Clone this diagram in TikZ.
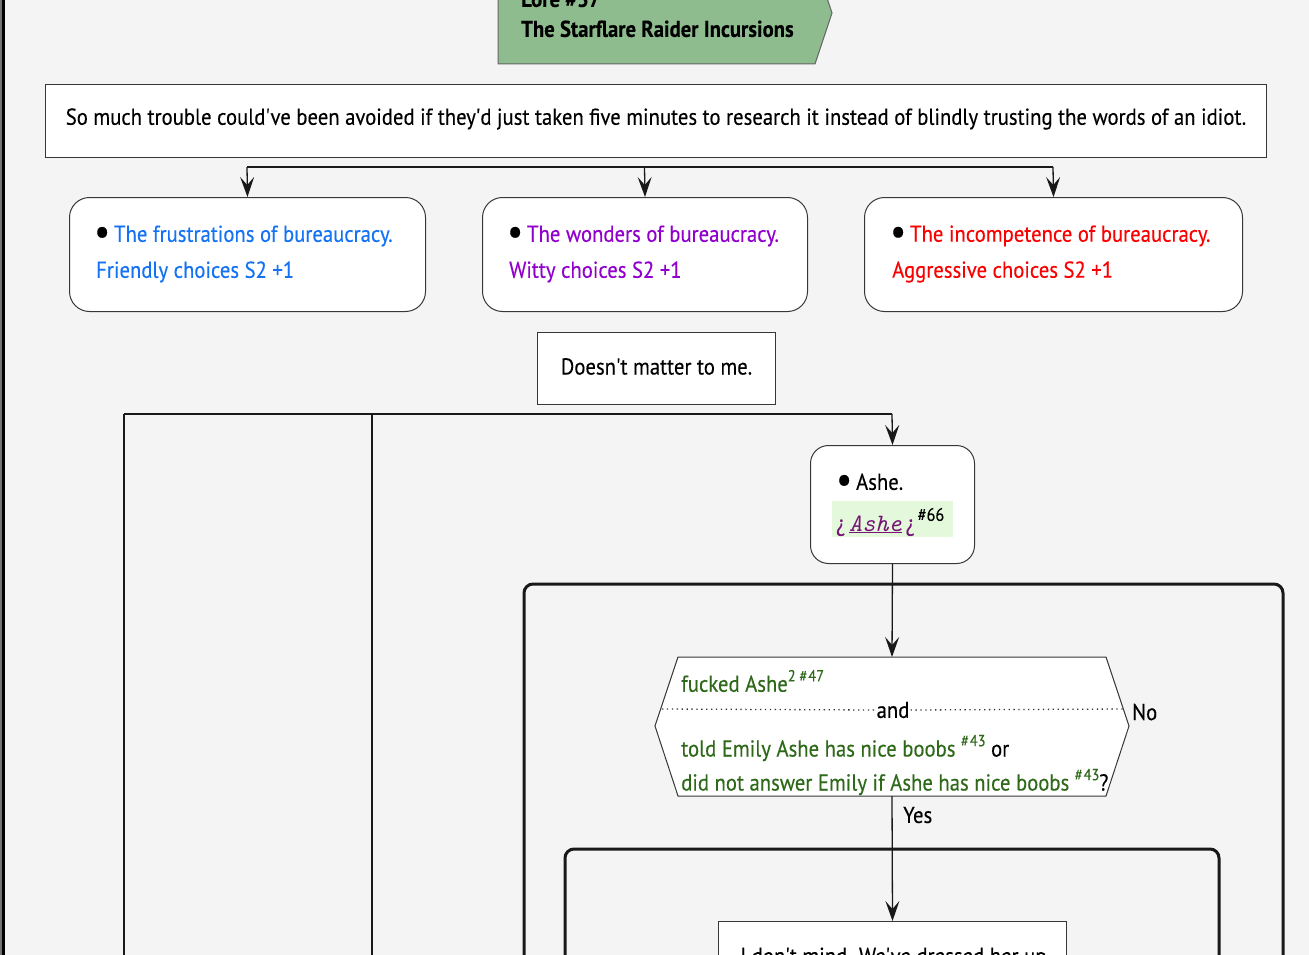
\documentclass[tikz,border=0pt]{standalone}
\usepackage{fontspec}
\setmainfont{PT Sans}[FakeStretch=0.9,FakeBold=0.25,Ligatures=TeXOff]
\usetikzlibrary{arrows.meta}

\definecolor{bg}{RGB}{244,244,244}
\definecolor{lorefill}{RGB}{143,188,143}
\definecolor{friendly}{RGB}{20,115,245}
\definecolor{witty}{RGB}{145,0,205}
\definecolor{aggr}{RGB}{250,0,0}
\definecolor{cond}{RGB}{45,105,25}
\definecolor{linkc}{RGB}{120,20,120}
\definecolor{hl}{RGB}{228,248,220}
\definecolor{edge}{RGB}{55,55,55}

% small raised reference mark
\newcommand\refmark[1]{\raisebox{0.45em}{\fontsize{16}{16}\selectfont #1}}
% list bullet, always black
\newcommand\blt{\hspace{-2pt}{\color{black}\raisebox{-0.12em}{\scalebox{1.7}{\textbullet}}}\hspace{4pt}}

\tikzset{
  plainbox/.style={draw=edge, line width=1pt, fill=white, inner sep=0pt},
  roundbox/.style={plainbox, rounded corners=20pt},
  frame/.style={draw=black!90, line width=3pt, rounded corners=9pt},
  bar/.style={draw=black!90, line width=2.6pt},
  lane/.style={draw=black!90, line width=2pt},
  flow/.style={draw=black!90, line width=1.3pt, -{Stealth[length=20pt,width=14pt,inset=8pt]}},
  txt/.style={inner sep=0pt, align=left, anchor=west},
}

\begin{document}
\begin{tikzpicture}[x=1pt,y=-1pt,font=\fontsize{23}{36}\selectfont]
\useasboundingbox (0,0) rectangle (1309,955);
\clip (0,0) rectangle (1309,955);
\fill[bg] (0,0) rectangle (1309,955);

% page edge on the left
\fill[black!55] (0,0) rectangle (1.5,955);
\fill[black] (1.7,0) rectangle (4.7,955);

% title flag
\draw[draw=black!60, line width=1pt, fill=lorefill]
  (498,-38) -- (815,-38) -- (832,13) -- (815,64) -- (498,64) -- cycle;
\node[txt, font=\fontsize{23}{30}\selectfont\bfseries] (title) at (521,14)
  {Lore \#37\\The Starflare Raider Incursions};

% opening line
\node[plainbox, minimum width=1221pt, minimum height=73pt, anchor=north west] (intro) at (45,84) {};
\node[inner sep=0pt] (introtext) at ([yshift=2pt]intro.center)
  {So much trouble could've been avoided if they'd just taken five minutes to research it instead of blindly trusting the words of an idiot.};

% three answer boxes
\node[roundbox, minimum width=356pt, minimum height=114pt, anchor=north west] (b1) at (69,197) {};
\node[txt, text=friendly] (b1t) at (96,254) {\blt The frustrations of bureaucracy.\\Friendly choices S2 +1};
\node[roundbox, minimum width=325pt, minimum height=114pt, anchor=north west] (b2) at (482,197) {};
\node[txt, text=witty] (b2t) at (509,254) {\blt The wonders of bureaucracy.\\Witty choices S2 +1};
\node[roundbox, minimum width=378pt, minimum height=114pt, anchor=north west] (b3) at (864,197) {};
\node[txt, text=aggr] (b3t) at (892,254) {\blt The incompetence of bureaucracy.\\Aggressive choices S2 +1};

\coordinate (fork1) at (247,167);
\coordinate (fork2) at (644.5,167);
\coordinate (fork3) at (1053,167);
\draw[bar] (fork1) -- (fork3);
\draw[flow] (fork1) -- (b1.north);
\draw[flow] (fork2) -- (b2.north);
\draw[flow] (fork3) -- (b3.north);

% neutral answer
\node[plainbox, minimum width=238pt, minimum height=72pt, anchor=north west] (dm) at (537,332) {};
\node[inner sep=0pt] (dmtext) at ([yshift=2pt]dm.center) {Doesn't matter to me.};

% lanes and the branch to Ashe
\coordinate (laneA) at (124,414);
\coordinate (laneB) at (372,414);
\coordinate (laneC) at (892,414);
\coordinate (laneAend) at (124,960);
\coordinate (laneBend) at (372,960);
\draw[lane] (laneA) -- (laneAend);
\draw[lane] (laneB) -- (laneBend);
\draw[bar] (laneA) -- (laneC);

\node[roundbox, rounded corners=18pt, minimum width=164pt, minimum height=118pt, anchor=north west] (ashe) at (810,445) {};
\fill[hl] (832,501) rectangle (953,537);
\node[txt] (ashet) at (838,483) {\blt Ashe.};
\node[txt] (ashel) at (836,522)
  {{\color{linkc}¿\hspace{4pt}\underline{\fontsize{25}{25}\ttfamily\itshape Ashe}\hspace{4pt}¿}\hspace{3pt}\raisebox{0.45em}{\fontsize{18}{18}\selectfont\#66}};
\draw[flow] (laneC) -- (ashe.north);

% outer frame
\draw[frame] (524,584) rectangle (1283,1010);

% condition
\coordinate (hexTop) at (892,657);
\coordinate (hexBot) at (892,796);
\draw[draw=edge, line width=1pt, fill=white]
  (678,657) -- (1106,657) -- (1129,726) -- (1106,796) -- (678,796) -- (655,726) -- cycle;
\node[inner sep=1pt, fill=white] (andw) at (893,710) {and};
\draw[black!80, line width=1.3pt, dash pattern=on 1.3pt off 3.6pt] (662,709) -- (andw.west);
\draw[black!80, line width=1.3pt, dash pattern=on 1.3pt off 3.6pt] (andw.east) -- (1125,709);
\node[txt, text=cond] (c1) at (681,681) {fucked Ashe\refmark{2 \#\kern1pt47}};
\node[txt, text=cond] (c2) at (681,748) {told Emily Ashe has nice boobs \refmark{\#\kern1pt43} {\color{black}or}};
\node[txt, text=cond] (c3) at (681,782) {did not answer Emily if Ashe has nice boobs \refmark{\#\kern1pt43}{\color{black}?}};
\node[txt] (no) at (1132,712) {No};
\node[txt] (yes) at (903,815) {Yes};
\draw[flow] (ashe.south) -- (hexTop);

% inner frame
\draw[frame] (565,849) rectangle (1219,1010);

\node[plainbox, minimum width=348pt, minimum height=80pt, anchor=north west] (reply) at (718,921) {};
\node[txt] (replyt) at (740,958) {I don't mind. We've dressed her up.};
\draw[flow] (hexBot) -- (reply.north);
\end{tikzpicture}
\end{document}
